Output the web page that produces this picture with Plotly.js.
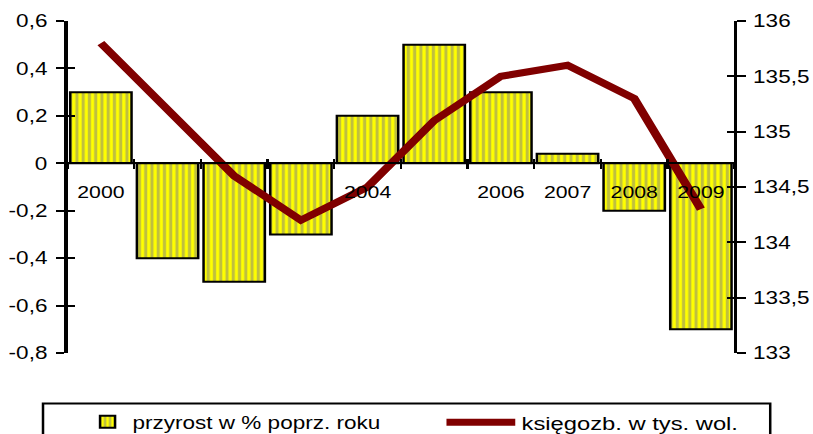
<!DOCTYPE html>
<html><head><meta charset="utf-8">
<script src="https://cdn.plot.ly/plotly-3.0.1.min.js"></script>
<style>
html,body{margin:0;padding:0;background:#fff;overflow:hidden}
#wrap{width:813px;height:434px;overflow:hidden}
#c{width:650px;height:434px;transform:scaleX(1.2508);transform-origin:0 0}
</style>
</head><body><div id="wrap"><div id="c"></div></div>
<script>
const years = ['2000','2001','2002','2003','2004','2005','2006','2007','2008','2009'];
const yearLabels = ['2000','','','','2004','','2006','2007','2008','2009'];
const growth = [0.3,-0.4,-0.5,-0.3,0.2,0.5,0.3,0.04,-0.2,-0.7];
const volumes = [135.8,135.2,134.6,134.2,134.5,135.1,135.5,135.6,135.3,134.3];
const leftTickVals = [-0.8,-0.6,-0.4,-0.2,0,0.2,0.4,0.6];
const leftTickText = ['-0,8','-0,6','-0,4','-0,2','0','0,2','0,4','0,6'];
const rightTickVals = [133,133.5,134,134.5,135,135.5,136];
const rightTickText = ['133','133,5','134','134,5','135','135,5','136'];
const barName = 'przyrost w % poprz. roku';
const lineName = 'księgozb. w tys. wol.';

const fam = 'Liberation Sans, Arial, sans-serif';
const data = [
  {type:'bar', x:years, y:growth, name:barName, xaxis:'x', yaxis:'y', legend:'legend',
   marker:{color:'#ffff00', line:{color:'#000', width:2},
     pattern:{shape:'|', fgcolor:'#808080', bgcolor:'#ffff00', size:5, solidity:0.5, fillmode:'overlay'}}},
  {type:'scatter', mode:'lines', x:years, y:volumes, name:lineName, xaxis:'x', yaxis:'y2', legend:'legend2',
   line:{color:'#800000', width:7, shape:'linear'}},
  {type:'scatter', x:[], y:[], xaxis:'x2', yaxis:'y3', showlegend:false, hoverinfo:'skip'},
  {type:'scatter', x:[], y:[], xaxis:'x', yaxis:'y4', showlegend:false, hoverinfo:'skip'}
];
const zeroPos = 0.8/1.4;
const legFont = {family:fam, size:18, color:'#000'};
const layout = {
  width:650, height:434,
  margin:{l:54, r:63, t:21, b:81, autoexpand:false},
  paper_bgcolor:'#fff', plot_bgcolor:'rgba(0,0,0,0)',
  font:{family:fam, size:18, color:'#000'},
  bargap:0.08,
  showlegend:true,
  legend:{orientation:'h', x:0.0225, xanchor:'left', y:-0.152, yanchor:'top',
    borderwidth:0, bgcolor:'rgba(0,0,0,0)', font:legFont},
  legend2:{orientation:'h', x:0.559, xanchor:'left', y:-0.152, yanchor:'top', itemwidth:55,
    borderwidth:0, bgcolor:'rgba(0,0,0,0)', font:{family:fam, size:19, color:'#000'}},
  shapes:[{type:'rect', xref:'paper', yref:'paper', x0:-0.0368, x1:1.054, y0:-0.152, y1:-0.45,
    line:{color:'#000', width:2}, fillcolor:'rgba(0,0,0,0)', layer:'above'}],
  xaxis:{type:'category', anchor:'free', position:zeroPos, domain:[0,1],
    tickmode:'array', tickvals:years, ticktext:yearLabels, tickson:'boundaries',
    ticks:'outside', ticklen:5, tickwidth:2, tickcolor:'#000',
    showline:true, linecolor:'#000', linewidth:2, showgrid:false, zeroline:false,
    ticklabelstandoff:13, tickfont:{size:17}},
  xaxis2:{type:'category', overlaying:'x', matches:'x', anchor:'free', position:zeroPos,
    tickmode:'array', tickvals:years, ticktext:yearLabels, tickson:'boundaries',
    ticks:'inside', ticklen:4, tickwidth:2, tickcolor:'#000', showticklabels:false,
    showline:false, showgrid:false, zeroline:false},
  yaxis:{range:[-0.8,0.6], tickmode:'array', tickvals:leftTickVals, ticktext:leftTickText,
    side:'left', showline:true, linecolor:'#000', linewidth:2.5,
    ticks:'outside', ticklen:7, tickwidth:2, tickcolor:'#000', showgrid:false, zeroline:false,
    tickfont:{size:18}, ticklabelstandoff:3},
  yaxis3:{overlaying:'y', matches:'y', side:'left', ticks:'inside', ticklen:6, tickwidth:2, tickcolor:'#000',
    tickmode:'array', tickvals:leftTickVals,
    showticklabels:false, showline:false, showgrid:false, zeroline:false, range:[-0.8,0.6]},
  yaxis2:{range:[133,136], tickmode:'array', tickvals:rightTickVals, ticktext:rightTickText,
    overlaying:'y', side:'right', showline:true, linecolor:'#000', linewidth:2.5,
    ticks:'outside', ticklen:7, tickwidth:2, tickcolor:'#000', showgrid:false, zeroline:false,
    tickfont:{size:18}, ticklabelstandoff:2},
  yaxis4:{overlaying:'y', matches:'y2', side:'right', ticks:'inside', ticklen:6, tickwidth:2, tickcolor:'#000',
    tickmode:'array', tickvals:rightTickVals,
    showticklabels:false, showline:false, showgrid:false, zeroline:false, range:[133,136]}
};
Plotly.newPlot('c', data, layout, {displayModeBar:false, staticPlot:true});
</script></body></html>
